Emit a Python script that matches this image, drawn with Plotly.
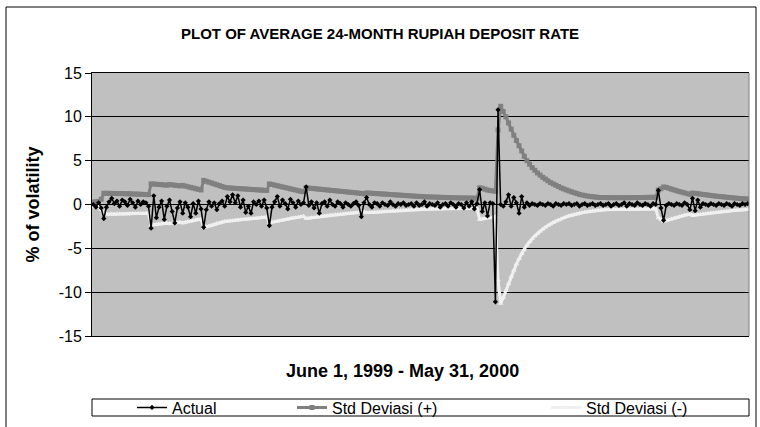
import plotly.graph_objects as go

# observation number, June 1, 1999 - May 31, 2000
day = list(range(1, 251))

actual = [
    0.0, -0.3, 0.2, -0.4, -1.6, -0.3, 0.3, 0.7, 0.1, 0.4,
    -0.2, 0.5, 0.3, -0.1, 0.6, 0.2, -0.3, 0.4, 0.0, 0.3,
    0.2, -0.2, -2.7, 1.0, -1.5, -0.3, 0.4, -1.7, -0.2, 0.5,
    -0.8, -2.1, -0.4, 0.3, -1.0, 0.2, -0.3, -1.4, 0.1, -1.0,
    0.4, -0.5, -2.6, -0.6, 0.3, -0.2, 0.2, -0.6, 0.1, 0.4,
    -0.2, 0.9, 0.3, 1.1, 0.2, 1.0, -0.3, 0.5, -0.9, -0.2,
    -1.0, 0.3, 0.0, 0.4, -0.2, 0.5, -0.4, -2.4, -0.3, 0.3,
    0.9, -0.2, 0.5, 0.1, -0.5, 0.6, 0.2, -0.3, 0.4, 0.0,
    0.2, 2.0, -0.1, 0.3, -0.4, 0.2, -1.0, 0.1, 0.3, -0.2,
    0.5, 0.0, -0.2, 0.3, 0.1, -0.3, 0.2, 0.0, -0.2, 0.1,
    0.3, -0.1, -1.4, 0.2, 0.8, 0.0, -0.3, 0.2, 0.1, -0.2,
    0.2, 0.0, -0.1, 0.3, 0.0, -0.2, 0.1, 0.0, 0.2, -0.1,
    0.0, 0.1, -0.2, 0.2, -0.1, 0.0, 0.3, -0.2, 0.1, 0.0,
    -0.1, 0.2, -0.3, 0.0, 0.1, -0.2, 0.2, 0.0, -0.3, 0.1,
    0.0, -0.4, 0.2, -0.2, 0.3, -0.5, 0.1, 1.7, -0.8, 0.2,
    -1.3, 0.2, 0.1, -11.1, 10.8, 0.0, -0.2, 0.3, 1.1, -0.2,
    0.8, 0.2, -1.0, 0.9, -0.3, 0.2, -0.1, 0.1, 0.0, -0.1,
    0.1, 0.0, -0.1, 0.1, 0.0, -0.2, 0.1, 0.0, -0.1, 0.1,
    0.0, 0.1, -0.1, 0.0, 0.1, -0.2, 0.0, 0.1, -0.1, 0.0,
    0.1, -0.1, 0.0, 0.1, -0.1, 0.0, 0.1, -0.2, 0.0, 0.1,
    -0.1, 0.0, 0.2, -0.2, 0.1, 0.0, -0.1, 0.2, 0.0, -0.1,
    0.1, 0.0, -0.2, 0.1, 0.0, 1.6, -0.4, -1.8, -0.1, 0.1,
    0.0, -0.1, 0.1, 0.0, -0.1, 0.2, 0.0, -0.6, 0.7, -0.7,
    0.5, -0.3, 0.1, 0.0, -0.1, 0.1, 0.0, -0.1, 0.1, 0.0,
    -0.1, 0.1, 0.0, -0.2, 0.1, 0.0, -0.1, 0.1, 0.0, 0.1,
]

std_plus = [
    0.3, 0.3, 0.35, 0.6,
    1.28, 1.28, 1.27, 1.27, 1.26, 1.25, 1.25, 1.24, 1.23, 1.22, 1.22, 1.2, 1.19, 1.18, 1.17, 1.15, 1.14, 1.12,
    2.35, 2.33, 2.31, 2.28, 2.26, 2.23, 2.2,
    2.27, 2.24, 2.2, 2.16, 2.12,
    2.18, 2.1, 2.02, 1.95, 1.88, 1.8, 1.73, 1.66,
    2.75, 2.65, 2.55, 2.45, 2.35, 2.25, 2.15, 2.05, 1.95,
    1.9, 1.88, 1.86, 1.84, 1.82, 1.8, 1.78, 1.76, 1.74, 1.72, 1.7, 1.68, 1.66,
    1.64, 1.62, 1.6,
    2.35, 2.28, 2.21, 2.14, 2.07, 2.0, 1.93, 1.86, 1.79, 1.72, 1.65, 1.58, 1.51, 1.46,
    1.9, 1.87, 1.84, 1.81, 1.78, 1.75, 1.72, 1.69, 1.66, 1.63, 1.6, 1.57, 1.54, 1.51, 1.48, 1.45,
    1.42, 1.39, 1.36, 1.33, 1.3, 1.26, 1.22,
    1.32, 1.3, 1.28, 1.26, 1.24, 1.22, 1.2, 1.18, 1.16, 1.14, 1.12, 1.1, 1.08, 1.06, 1.04, 1.02,
    1.0, 0.98, 0.96, 0.94, 0.92, 0.9, 0.88,
    0.87, 0.86, 0.85, 0.84, 0.83, 0.82, 0.81, 0.8, 0.79, 0.78, 0.77, 0.76, 0.75, 0.75, 0.74, 0.74,
    0.73, 0.73, 0.72, 0.72,
    1.9, 1.85, 1.75, 1.65, 1.6, 1.55, 1.5,
    8.5, 11.2, 10.6, 10.0, 9.3, 8.6, 7.9, 7.3, 6.7, 6.1, 5.5, 5.0, 4.6, 4.2, 3.9, 3.6, 3.35, 3.1,
    2.9, 2.7, 2.5, 2.35, 2.2, 2.05, 1.9, 1.78, 1.66, 1.55, 1.45, 1.35, 1.25, 1.15, 1.08, 1.02,
    0.96, 0.92, 0.88, 0.85, 0.82, 0.8,
    0.79, 0.79, 0.78, 0.78, 0.78, 0.77, 0.77, 0.77, 0.77, 0.78, 0.78, 0.78, 0.79, 0.79, 0.8, 0.8,
    0.81, 0.81, 0.82, 0.82, 0.83,
    1.65, 1.8, 2.0, 1.95, 1.85,
    1.75, 1.66, 1.57, 1.48, 1.4, 1.32, 1.24, 1.16,
    1.3,
    1.27, 1.23, 1.19, 1.15, 1.11, 1.07, 1.03, 0.99, 0.95, 0.92, 0.89, 0.86, 0.83, 0.8, 0.77, 0.74,
    0.71, 0.68, 0.66, 0.64, 0.62,
]

std_minus = [
    -0.25, -0.25, -0.3, -0.6,
    -1.12, -1.12, -1.11, -1.11, -1.1, -1.1, -1.09, -1.08, -1.08, -1.07, -1.06, -1.05, -1.05, -1.04,
    -1.03, -1.02, -1.01, -1.0,
    -2.35, -2.32, -2.28, -2.25, -2.21, -2.18, -2.14,
    -2.2, -2.16, -2.12, -2.08, -2.04,
    -2.1, -2.03, -1.96, -1.9, -1.84, -1.78, -1.72, -1.66,
    -2.65, -2.55, -2.45, -2.36, -2.27, -2.18, -2.1, -2.02, -1.94,
    -1.9, -1.87, -1.84, -1.81, -1.78, -1.75, -1.72, -1.69, -1.66, -1.63, -1.6, -1.57, -1.54,
    -1.5, -1.47, -1.44,
    -2.1, -2.03, -1.97, -1.91, -1.85, -1.79, -1.73, -1.67, -1.61, -1.55, -1.5, -1.45, -1.4, -1.35,
    -1.6, -1.56, -1.52, -1.48, -1.44, -1.4, -1.36, -1.32, -1.28, -1.24, -1.2, -1.17, -1.14, -1.11,
    -1.08, -1.05, -1.02, -0.99, -0.96, -0.93, -0.9, -0.87, -0.84,
    -0.95, -0.93, -0.91, -0.89, -0.87, -0.85, -0.83, -0.81, -0.79, -0.77, -0.75, -0.73, -0.71, -0.69,
    -0.67, -0.65, -0.63, -0.61, -0.59, -0.57, -0.55, -0.54, -0.53,
    -0.52, -0.52, -0.51, -0.51, -0.5, -0.5, -0.5, -0.49, -0.49, -0.49, -0.48, -0.48, -0.48, -0.47,
    -0.47, -0.47, -0.46, -0.46, -0.46, -0.46,
    -1.7, -1.65, -1.6, -1.55, -1.5, -1.45, -1.4,
    -8.6, -11.3, -10.6, -9.8, -9.0, -8.2, -7.5, -6.8, -6.2, -5.6, -5.1, -4.65, -4.25, -3.9, -3.6,
    -3.3, -3.05, -2.82, -2.6, -2.4, -2.22, -2.06, -1.91, -1.77, -1.64, -1.52, -1.41, -1.31, -1.22,
    -1.14, -1.07, -1.0, -0.94, -0.88, -0.83, -0.78, -0.74, -0.7, -0.67, -0.64,
    -0.62, -0.61, -0.6, -0.59, -0.58, -0.57, -0.56, -0.56, -0.55, -0.55, -0.54, -0.54, -0.53, -0.53,
    -0.53, -0.52, -0.52, -0.52, -0.52, -0.51, -0.51,
    -1.5, -1.7, -1.9, -1.85, -1.75,
    -1.65, -1.56, -1.47, -1.39, -1.31, -1.23, -1.16, -1.09,
    -1.25,
    -1.21, -1.17, -1.13, -1.09, -1.05, -1.01, -0.97, -0.93, -0.9, -0.87, -0.84, -0.81, -0.78, -0.75,
    -0.72, -0.69, -0.66, -0.64, -0.62, -0.6, -0.58,
]

y_ticks = [-15, -10, -5, 0, 5, 10, 15]
y_labels = ["-15", "-10", "-5", "0", "5", "10", "15"]

FONT = "Liberation Sans, Arial, sans-serif"
W, H = 760, 427
L, R, T, B = 92, 749, 73, 336  # plot area, pixels


def px(x):
    return (x - L) / (R - L)


def py(y):
    return (B - y) / (B - T)


fig = go.Figure()
fig.add_trace(go.Scatter(
    x=day, y=std_plus, name="Std Deviasi (+)", mode="lines+markers",
    line=dict(color="#808080", width=3),
    marker=dict(symbol="square", size=5, color="#808080"),
    legend="legend2", showlegend=True,
))
fig.add_trace(go.Scatter(
    x=day, y=std_minus, name="Std Deviasi (-)", mode="lines+markers",
    line=dict(color="#F0F0F0", width=3),
    marker=dict(symbol="triangle-up", size=5, color="#F0F0F0"),
    legend="legend3", showlegend=True,
))
fig.add_trace(go.Scatter(
    x=day, y=actual, name="Actual", mode="lines+markers",
    line=dict(color="black", width=1.5),
    marker=dict(symbol="diamond", size=4, color="black"),
    legend="legend", showlegend=True,
))

leg = dict(orientation="h", yanchor="middle", y=py(407.5), xanchor="left",
           bgcolor="rgba(0,0,0,0)", font=dict(family=FONT, size=16, color="black"))

fig.update_layout(
    width=W, height=H,
    margin=dict(l=L, r=W - R, t=T, b=H - B, autoexpand=False),
    paper_bgcolor="white",
    plot_bgcolor="#C0C0C0",
    showlegend=True,
    font=dict(family=FONT, size=14, color="black"),
    legend=dict(leg, x=px(132)),
    legend2=dict(leg, x=px(292)),
    legend3=dict(leg, x=px(546)),
    annotations=[
        dict(text="<b>PLOT OF AVERAGE 24-MONTH RUPIAH DEPOSIT RATE</b>",
             xref="paper", yref="paper", x=px(380), y=py(33),
             xanchor="center", yanchor="middle", showarrow=False,
             font=dict(family=FONT, size=15)),
        dict(text="<b>June 1, 1999 - May 31, 2000</b>",
             xref="paper", yref="paper", x=px(402), y=py(371),
             xanchor="center", yanchor="middle", showarrow=False,
             font=dict(family=FONT, size=18)),
        dict(text="<b>% of volatility</b>", textangle=-90,
             xref="paper", yref="paper", x=px(32), y=0.5,
             xanchor="center", yanchor="middle", showarrow=False,
             font=dict(family=FONT, size=18)),
    ],
    shapes=[
        dict(type="rect", xref="paper", yref="paper",
             x0=px(6), x1=px(756), y0=py(445), y1=py(7),
             line=dict(color="black", width=1)),
        dict(type="rect", xref="paper", yref="paper",
             x0=px(92), x1=px(749), y0=py(416), y1=py(399),
             line=dict(color="black", width=1)),
        dict(type="line", xref="paper", yref="paper",
             x0=1, x1=1, y0=0, y1=1, line=dict(color="#808080", width=1)),
    ],
)

fig.update_xaxes(
    range=[0.5, 250.5], showgrid=False, zeroline=False,
    showticklabels=False, ticks="",
    showline=True, mirror=True, linecolor="black", linewidth=1,
)
fig.update_yaxes(
    range=[-15, 15], tickvals=y_ticks, ticktext=y_labels,
    showgrid=True, gridcolor="black", gridwidth=1,
    zeroline=True, zerolinecolor="black", zerolinewidth=1,
    showline=True, linecolor="black", linewidth=1,
    ticks="outside", ticklen=6, tickcolor="black",
    tickfont=dict(family=FONT, size=16),
)

fig.write_html("out.html", config={"displayModeBar": False},
               post_script="document.body.style.margin = '0';")
